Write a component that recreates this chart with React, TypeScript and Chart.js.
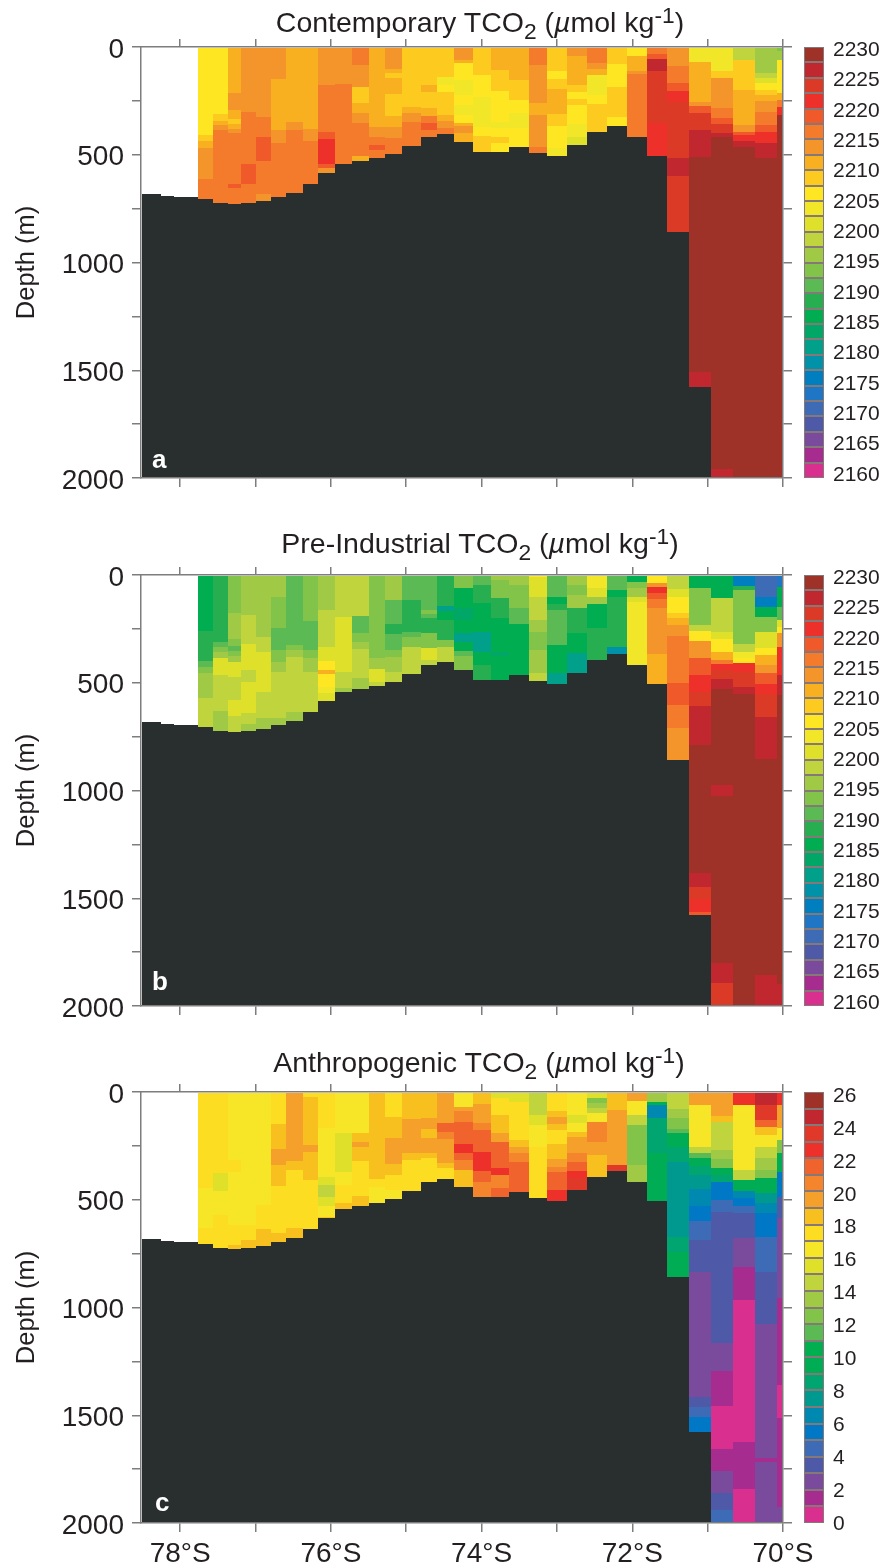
import React, { useEffect, useRef } from "react";
import { Chart, BarController, BarElement, LinearScale } from "chart.js";

const latEdges = [-78.51,-78.25,-78.08,-77.77,-77.57,-77.37,-77.19,-76.99,-76.79,-76.59,-76.37,-76.17,-75.94,-75.72,-75.50,-75.28,-75.05,-74.81,-74.59,-74.36,-74.12,-73.87,-73.63,-73.37,-73.13,-72.86,-72.60,-72.33,-72.07,-71.80,-71.54,-71.25,-70.95,-70.66,-70.37,-70.08,-70.0];
const seafloor = [682,690,697,705,722,729,722,713,697,678,637,586,543,527,516,497,458,418,405,441,487,487,464,492,506,455,393,366,418,506,857,1577,2000,2000,2000,2000];
const firstWaterColumn = 3;

const contemporary = [
[0,2206,408,2209,436,2211,470,2214,612,2216],
[0,2206,311,2209,342,2211,362,2214,385,2216],
[0,2211,212,2214,292,2211,334,2209,357,2211,380,2214,397,2216,636,2219,656,2216],
[0,2214,300,2216,545,2219,636,2216],
[0,2214,326,2216,419,2219,529,2216,682,2214],
[0,2214,148,2211,385,2214,447,2216],
[0,2211,346,2214,385,2216],
[0,2211,380,2214,436,2216],
[0,2214,176,2216,393,2219,427,2221,541,2219,563,2214],
[0,2214,173,2216],
[0,2216,84,2214,187,2209,258,2211,305,2214,351,2216,506,2211],
[0,2211,370,2214,419,2216,455,2219,478,2216],
[0,2214,104,2211,122,2209,145,2211,218,2209,320,2211,373,2214,424,2216],
[0,2209,277,2211,308,2214,346,2216],
[0,2209,176,2211,210,2209,285,2211,320,2216,354,2219,385,2216],
[0,2209,138,2204,176,2206,210,2209,315,2211,342,2214,378,2216],
[0,2214,60,2211,76,2206,153,2204,223,2206,269,2204,315,2206,351,2211,366,2214,401,2211],
[0,2209,130,2206,234,2204,370,2206,413,2209],
[0,2211,107,2209,204,2206,346,2204,374,2206,419,2209,447,2206],
[0,2211,153,2209,246,2206,305,2204,374,2206],
[0,2216,84,2214,261,2211,315,2214,463,2216],
[0,2209,110,2206,150,2209,196,2211,312,2209,367,2206,470,2204],
[0,2214,42,2211,176,2209,207,2206,242,2209,269,2206,357,2204,419,2201],
[0,2216,73,2214,104,2211,130,2204,223,2206,265,2209],
[0,2209,79,2206,184,2209,326,2206],
[0,2206,42,2211,110,2214,125,2216],
[0,2216,32,2219,57,2226,110,2224,354,2221],
[0,2214,88,2216,169,2219,203,2221,254,2224,517,2226,597,2224],
[0,2204,68,2211,254,2214,274,2219,305,2224,385,2226,512,2229,1506,2226],
[0,2204,110,2209,142,2214,285,2216,331,2219,357,2224,397,2226,419,2229,1958,2226],
[0,2199,60,2209,200,2211,362,2214,393,2219,408,2221,435,2226,463,2229],
[0,2196,122,2199,145,2201,165,2206,200,2209,223,2211,249,2214,300,2216,362,2219,393,2221,447,2226,517,2229],
[0,2194,20,2196,60,2206,215,2211,246,2216,277,2221,316,2229],
];

const preIndustrial = [
[0,2186,260,2189,399,2191,425,2194,456,2196,569,2199],
[0,2189,309,2191,333,2194,359,2196,387,2201,464,2199,631,2196],
[0,2194,178,2196,297,2194,328,2191,353,2194,374,2196,402,2201,472,2199,580,2201,653,2199],
[0,2196,186,2199,322,2201,441,2199,495,2201,642,2199,693,2196],
[0,2196,286,2199,359,2201,541,2199,662,2196],
[0,2196,100,2194,248,2191,348,2194,402,2196,449,2199,665,2196],
[0,2191,325,2194,348,2196,379,2199,634,2196],
[0,2194,213,2191,348,2194,387,2196,449,2199],
[0,2196,162,2199,333,2201,399,2206,441,2211,461,2206,518,2204,549,2201],
[0,2199,193,2201,449,2199,526,2196],
[0,2199,189,2191,271,2194,309,2196,343,2199,480,2196],
[0,2194,387,2196,436,2201,495,2199],
[0,2196,116,2191,229,2189,275,2191,348,2194,379,2196,449,2199],
[0,2191,116,2189,263,2191,286,2194,333,2199],
[0,2191,162,2194,182,2191,201,2189,271,2194,340,2201,394,2199],
[0,2189,142,2181,167,2186,209,2189,302,2194,333,2199],
[0,2194,62,2186,155,2184,209,2186,271,2181,309,2186,353,2191,374,2194],
[0,2191,46,2189,131,2186,263,2181,356,2186,418,2189],
[0,2196,23,2194,108,2189,201,2186,359,2184,374,2186],
[0,2196,46,2194,155,2191,229,2186],
[0,2206,8,2201,100,2199,209,2196,263,2194,348,2196,456,2199],
[0,2191,100,2186,136,2189,162,2191,325,2186,456,2181],
[0,2196,46,2194,93,2196,155,2189,271,2186,364,2181],
[0,2204,62,2201,100,2196,136,2186,248,2189],
[0,2191,70,2186,100,2189,333,2179],
[0,2186,34,2194,59,2196,100,2201,124,2204],
[0,2206,39,2214,54,2221,85,2219,113,2216,155,2214,368,2211],
[0,2199,65,2201,100,2206,178,2209,201,2211,232,2214,283,2216,503,2219,603,2216,708,2214],
[0,2186,59,2194,232,2199,260,2206,306,2214,387,2219,464,2221,545,2224,608,2226,789,2229,1385,2226,1446,2224,1505,2221,1562,2219],
[0,2186,108,2199,263,2201,297,2206,356,2211,395,2216,415,2221,441,2224,483,2226,529,2229,975,2226,1024,2229,1802,2226,1892,2224],
[0,2176,50,2189,70,2194,322,2199,359,2204,384,2206,410,2221,452,2224,518,2226,554,2229],
[0,2171,100,2175,147,2186,193,2194,263,2201,340,2206,371,2211,418,2214,456,2219,507,2221,554,2224,657,2226,854,2229,1856,2226],
[0,2174,54,2186,147,2191,209,2201,240,2206,271,2214,333,2221,464,2226,557,2229,1900,2226],
];

const anthropogenic = [
[0,17.5,447,16.5,633,17.5],
[0,17.5,377,15.5,459,16.5,570,17.5],
[0,16.5,315,17.5,373,16.5,617,17.5,710,18.5],
[0,16.5,617,17.5,687,18.5],
[0,16.5,524,17.5,636,18.5],
[0,17.5,150,18.5,265,19.5,339,18.5,436,17.5,656,18.5],
[0,19.5,320,18.5,362,17.5,630,18.5],
[0,17.5,22,18.5,246,19.5,277,18.5,408,17.5],
[0,17.5,169,16.5,393,15.5,432,14.5,486,15.5,528,16.5,579,18.5],
[0,16.5,192,15.5,373,16.5,430,17.5,517,18.5],
[0,16.5,192,18.5,230,19.5,254,18.5,320,17.5,483,18.5],
[0,18.5,404,17.5,439,16.5],
[0,17.5,114,18.5,215,19.5,334,18.5,385,17.5,455,16.5],
[0,18.5,125,19.5,281,18.5,315,17.5],
[0,18.5,122,19.5,173,18.5,212,19.5,285,18.5,307,17.5],
[0,19.5,145,21.5,184,20.5,218,19.5,331,18.5,354,17.5],
[0,16.5,68,19.5,88,20.5,138,21.5,243,22.5,284,21.5,315,20.5,362,18.5],
[0,18.5,57,19.5,145,20.5,176,21.5,277,22.5,367,21.5,416,20.5],
[0,15.5,29,17.5,107,18.5,192,19.5,230,21.5,354,22.5,385,20.5,447,21.5],
[0,15.5,45,17.5,223,18.5,254,19.5,285,20.5,326,21.5],
[0,14.5,107,15.5,153,16.5,254,17.5],
[0,17.5,88,18.5,114,19.5,150,18.5,176,17.5,243,18.5,311,19.5,347,20.5,373,21.5,455,22.5],
[0,16.5,107,15.5,145,16.5,184,18.5,207,19.5,285,20.5,323,21.5,367,22.5,400,23.5],
[0,15.5,29,12.5,53,13.5,76,14.5,99,16.5,138,20.5,230,19.5,292,18.5],
[0,18.5,84,19.5,339,23.5],
[0,19.5,42,16.5,107,14.5,153,12.5,339,13.5],
[0,13.5,45,10.5,60,6.5,122,8.5,285,9.5],
[0,14.5,79,13.5,122,12.5,172,11.5,192,9.5,254,8.5,326,7.5,671,8.5,741,9.5],
[0,19.5,60,16.5,254,14.5,285,11.5,305,9.5,345,8.5,385,7.5,450,6.5,527,5.5,598,4.5,687,3.5,837,2.5,1414,3.5,1460,4.5,1507,5.5],
[0,19.5,110,18.5,138,14.5,270,13.5,311,12.5,354,9.5,385,8.5,416,5.5,501,4.5,558,3.5,1166,2.5,1295,1.5,1456,0.5,1657,1.5,1759,2.5,1863,3.5,1940,4.5],
[0,22.5,60,16.5,362,14.5,408,9.5,459,6.5,493,5.5,528,4.5,563,3.5,679,2.5,811,1.5,965,0.5,1623,1.5,1840,0.5],
[0,24.5,60,23.5,130,21.5,161,18.5,200,16.5,254,14.5,308,13.5,362,12.5,397,9.5,470,7.5,517,6.5,563,5.5,671,4.5,833,3.5,1078,2.5,1697,1.5,1719,2.5],
[0,22.5,60,19.5,168,16.5,222,12.5,285,9.5,370,5.5,486,3.5,587,2.5,957,1.5,1360,0.5,1515,1.5,1925,2.5],
];

const tcoLevels = [2230,2227.5,2225,2222.5,2220,2217.5,2215,2212.5,2210,2207.5,2205,2202.5,2200,2197.5,2195,2192.5,2190,2187.5,2185,2182.5,2180,2177.5,2175,2172.5,2170,2167.5,2165,2162.5,2160];
const tcoColors = ["#9e3229","#c1272e","#da3a26","#ed3029","#f05a2a","#f37b2b","#f4952c","#f8b020","#fdca1f","#fee722","#f2e629","#dfe02a","#c0d53d","#a0c945","#82c44a","#5cba55","#27ae50","#00ad50","#00a766","#00a08a","#0092a8","#007fc0","#1f76c4","#3d6bb5","#4e5aa8","#7a4a9d","#a62d8f","#d9308f"];
const tcoTicks = [2230,2225,2220,2215,2210,2205,2200,2195,2190,2185,2180,2175,2170,2165,2160];

const anthroLevels = [26,25,24,23,22,21,20,19,18,17,16,15,14,13,12,11,10,9,8,7,6,5,4,3,2,1,0];
const anthroColors = ["#9e3229","#c1272e","#e0392a","#ed3029","#f0632c","#f4852c","#f5a02a","#f8c01f","#fddd22","#f6e627","#dfe02a","#c0d53d","#a0c945","#82c44a","#5cba55","#00b050","#00ad55","#00a570","#00998f","#0089b0","#0078c5","#3d6bb5","#4e5aa8","#7a4a9d","#a62d8f","#d9308f"];
const anthroTicks = [26,24,22,20,18,16,14,12,10,8,6,4,2,0];

const latTicks = [-78,-77,-76,-75,-74,-73,-72,-71,-70];
const FONT = '"Liberation Sans", Arial, sans-serif';
const INK = "#231f20";
const AXIS = "#7d7d7d";
const ROCK = "#292f2f";

class CellController extends (BarController as any) {
  static id = "cell";
  static defaults = (BarController as any).defaults;
  static overrides = { scales: { _index_: { type: "linear" }, _value_: { type: "linear", beginAtZero: false } } };
  _calculateBarIndexPixels(index: number) {
    const raw = this.getDataset().data[index];
    const s = this._cachedMeta.iScale;
    const a = Math.round(s.getPixelForValue(raw.x0));
    const b = Math.round(s.getPixelForValue(raw.x1));
    return { base: a, head: b, center: (a + b) / 2, size: b - a };
  }
  _calculateBarValuePixels(index: number) {
    const r = super._calculateBarValuePixels(index);
    const base = Math.round(r.base);
    const head = Math.round(r.head);
    return { size: head - base, base, head, center: (base + head) / 2 };
  }
}
Chart.register(CellController as any, BarElement, LinearScale);

function colorFor(v: number, levels: number[], colors: string[]) {
  for (let i = 0; i < colors.length; i++) if (v >= levels[i + 1]) return colors[i];
  return colors[colors.length - 1];
}

function buildCells(cols: number[][], levels: number[], colors: string[]) {
  const out: any[] = [];
  const bg: string[] = [];
  cols.forEach((col, i) => {
    const k = i + firstWaterColumn;
    const floor = seafloor[k];
    for (let j = 0; j < col.length; j += 2) {
      const top = col[j];
      const bottom = Math.min(j + 2 < col.length ? col[j + 2] : floor, floor);
      if (top >= floor) continue;
      out.push({ x: (latEdges[k] + latEdges[k + 1]) / 2, x0: latEdges[k], x1: latEdges[k + 1], y: [top, bottom] });
      bg.push(colorFor(col[j + 1], levels, colors));
    }
  });
  seafloor.forEach((d, k) => {
    if (d >= 2000) return;
    out.push({ x: (latEdges[k] + latEdges[k + 1]) / 2, x0: latEdges[k], x1: latEdges[k + 1], y: [d, 2000] });
    bg.push(ROCK);
  });
  return { out, bg };
}

const PAD_TOP = 30;
const PLOT_H = 431;
const PAD_BOTTOM = 60;
const BAR_MARGIN = 24;

function tickAxis(extra: any) {
  return {
    grid: { drawOnChartArea: false, drawTicks: true, color: AXIS, lineWidth: 1.5, z: 2, tickLength: 9 },
    border: { display: true, color: AXIS, width: 1.5, z: 2 },
    ...extra,
  };
}

function panelConfig(cols: number[][], levels: number[], colors: string[], showLat: boolean) {
  const { out, bg } = buildCells(cols, levels, colors);
  const xb = { type: "linear", min: -78.52, max: -70, afterBuildTicks: (s: any) => { s.ticks = latTicks.map((value) => ({ value })); } };
  const yb = { type: "linear", min: 0, max: 2000, reverse: true, ticks: { stepSize: 250 } };
  return {
    type: "cell",
    data: { datasets: [{ data: out, backgroundColor: bg, borderWidth: 0, xAxisID: "x", yAxisID: "y", grouped: false }] },
    options: {
      animation: false, responsive: false, events: [],
      layout: { padding: { left: 0, right: 89, top: PAD_TOP - 8, bottom: 0 } },
      plugins: { legend: { display: false }, tooltip: { enabled: false } },
      scales: {
        x: tickAxis({ ...xb, position: "bottom",
          afterFit: (s: any) => { s.height = PAD_BOTTOM; },
          ticks: { display: showLat, autoSkip: false, maxRotation: 0, color: INK, padding: 5, font: { family: FONT, size: 28 },
            callback: (v: number) => (v % 2 === 0 ? `${-v}°S` : "") } }),
        x2: tickAxis({ ...xb, position: "top", afterFit: (s: any) => { s.height = 8; }, ticks: { display: false }, grid: { drawOnChartArea: false, drawTicks: true, color: AXIS, lineWidth: 1.5, z: 2, tickLength: 8 } }),
        y: tickAxis({ ...yb, position: "left",
          afterFit: (s: any) => { s.width = 141; },
          ticks: { stepSize: 250, autoSkip: false, color: INK, padding: 8, labelOffset: 3, font: { family: FONT, size: 28 },
            callback: (v: number) => (v % 500 === 0 ? String(v) : "") },
          title: { display: true, text: "Depth (m)", color: INK, font: { family: FONT, size: 25.5 }, padding: { top: 12, bottom: 0 } } }),
        y2: tickAxis({ ...yb, position: "right", afterFit: (s: any) => { s.width = 11; }, ticks: { stepSize: 250, display: false } }),
      },
    },
  };
}

function barConfig(levels: number[], colors: string[], ticks: number[], labelMin: number, labelMax: number) {
  const data = colors.map((_, i) => ({ x: 0.5, x0: 0, x1: 1, y: [levels[i + 1], levels[i]] }));
  return {
    type: "cell",
    data: { datasets: [{ data, backgroundColor: colors, borderColor: "rgba(50,30,30,0.6)", borderWidth: 1, borderSkipped: false, xAxisID: "x", yAxisID: "y", grouped: false }] },
    options: {
      animation: false, responsive: false, events: [],
      layout: { padding: { left: 9, right: 0, top: BAR_MARGIN, bottom: BAR_MARGIN } },
      plugins: { legend: { display: false }, tooltip: { enabled: false } },
      scales: {
        x: { type: "linear", min: 0, max: 1, display: false },
        y: { type: "linear", min: levels[levels.length - 1], max: levels[0], display: false },
        y2: { type: "linear", position: "right", min: labelMin, max: labelMax,
          afterBuildTicks: (s: any) => { s.ticks = ticks.map((value) => ({ value })); },
          afterFit: (s: any) => { s.width = 59; },
          grid: { display: false, drawTicks: false }, border: { display: false },
          ticks: { autoSkip: false, color: INK, padding: 9, labelOffset: 1, font: { family: FONT, size: 21 }, callback: (v: number) => String(v) } },
      },
    },
  };
}

function ChartCanvas({ config, left, top, width, height }: any) {
  const ref = useRef<HTMLCanvasElement>(null);
  useEffect(() => {
    const c = new Chart(ref.current as any, config());
    return () => c.destroy();
  }, []);
  return <canvas ref={ref} width={width} height={height} style={{ position: "absolute", left, top, width, height }} />;
}

function Title({ name, center, y }: any) {
  return (
    <div style={{ position: "absolute", left: center - 300, width: 600, top: y - 16, height: 32, lineHeight: "32px", textAlign: "center", whiteSpace: "nowrap", fontFamily: FONT, fontSize: 28.5, color: INK }}>
      {name} TCO<span style={{ fontSize: "0.8em", position: "relative", top: 7 }}>2</span> (<i>µ</i>mol kg<span style={{ fontSize: "0.8em", position: "relative", top: -9 }}>-1</span>)
    </div>
  );
}

function Letter({ text, x, y }: any) {
  return <div style={{ position: "absolute", left: x, top: y - 16, lineHeight: "32px", fontFamily: FONT, fontWeight: 700, fontSize: 26, color: "#fff" }}>{text}</div>;
}

const panelTops = [47, 575, 1092];

export default function App() {
  const ph = PAD_TOP + PLOT_H + PAD_BOTTOM;
  const bh = PLOT_H + 2 * BAR_MARGIN;
  return (
    <div style={{ position: "absolute", left: 0, top: 0, width: 883, height: 1568, overflow: "hidden", background: "#fff" }}>
      <ChartCanvas left={0} top={panelTops[0] - PAD_TOP} width={883} height={ph} config={() => panelConfig(contemporary, tcoLevels, tcoColors, false)} />
      <ChartCanvas left={0} top={panelTops[1] - PAD_TOP} width={883} height={ph} config={() => panelConfig(preIndustrial, tcoLevels, tcoColors, false)} />
      <ChartCanvas left={0} top={panelTops[2] - PAD_TOP} width={883} height={ph} config={() => panelConfig(anthropogenic, anthroLevels, anthroColors, true)} />
      <ChartCanvas left={795} top={panelTops[0] - BAR_MARGIN} width={88} height={bh} config={() => barConfig(tcoLevels, tcoColors, tcoTicks, 2159.34, 2230.33)} />
      <ChartCanvas left={795} top={panelTops[1] - BAR_MARGIN} width={88} height={bh} config={() => barConfig(tcoLevels, tcoColors, tcoTicks, 2159.34, 2230.33)} />
      <ChartCanvas left={795} top={panelTops[2] - BAR_MARGIN} width={88} height={bh} config={() => barConfig(anthroLevels, anthroColors, anthroTicks, 0, 26.18)} />
      <Title name="Contemporary" center={480} y={22} />
      <Title name="Pre-Industrial" center={480} y={543} />
      <Title name="Anthropogenic" center={479} y={1062} />
      <Letter text="a" x={152} y={459} />
      <Letter text="b" x={152} y={981} />
      <Letter text="c" x={155} y={1502} />
    </div>
  );
}
